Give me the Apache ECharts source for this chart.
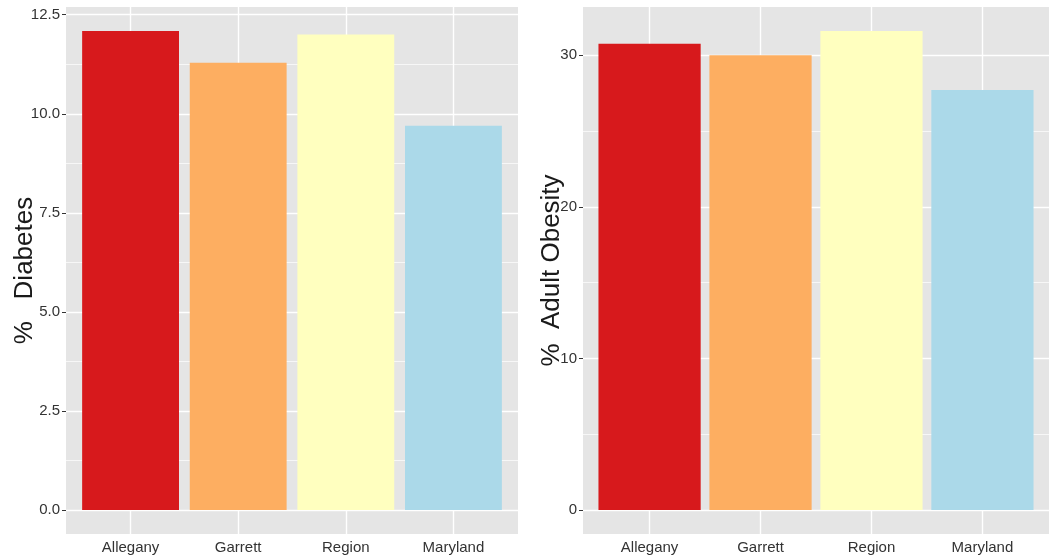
<!DOCTYPE html>
<html>
<head>
<meta charset="utf-8">
<script src="https://cdn.jsdelivr.net/npm/echarts@6/dist/echarts.min.js"></script>
<style>
html,body{margin:0;padding:0;background:#fff;}
#chart{width:1049px;height:559px;}
</style>
</head>
<body>
<div id="chart"></div>
<script>
const categories = ['Allegany', 'Garrett', 'Region', 'Maryland'];
const diabetes = [12.09, 11.29, 12.0, 9.70];
const obesity = [30.76, 30.0, 31.6, 27.7];
const barColors = ['#D7191C', '#FDAE61', '#FFFFBF', '#ABD9E9'];
const diabetesTicks = [0, 2.5, 5, 7.5, 10, 12.5];
const diabetesMinor = [1.25, 3.75, 6.25, 8.75, 11.25];
const obesityTicks = [0, 10, 20, 30];
const obesityMinor = [5, 15, 25];
const xPositions = [1, 2, 3, 4];

const panelBg = '#E5E5E5';
const tickColor = '#333333';
const labelColor = '#333333';

const grids = [
  {left: 66, top: 7, width: 452, height: 527},
  {left: 583, top: 7, width: 477, height: 527}
];

function yRange(vals) {
  const mx = Math.max(...vals);
  return {min: -0.05 * mx, max: mx * 1.05};
}

function gridLineSeries(idx, major, minor) {
  const data = [];
  major.forEach(v => data.push({yAxis: v, lineStyle: {width: 1.4}}));
  minor.forEach(v => data.push({yAxis: v, lineStyle: {width: 0.7}}));
  xPositions.forEach(v => data.push({xAxis: v, lineStyle: {width: 1.4}}));
  return {
    type: 'line', xAxisIndex: idx, yAxisIndex: idx, data: [], z: 1, silent: true,
    markLine: {
      z: 1,
      silent: true, symbol: ['none', 'none'], label: {show: false},
      lineStyle: {color: '#FFFFFF', type: 'solid'},
      emphasis: {disabled: true},
      animation: false,
      data: data
    }
  };
}

function barSeries(idx, vals) {
  const bw = grids[idx].width / 4.2 * 0.9;
  return {
    type: 'bar', xAxisIndex: idx, yAxisIndex: idx, z: 3, barWidth: bw,
    animation: false,
    data: vals.map((v, i) => ({value: [xPositions[i], v], itemStyle: {color: barColors[i]}}))
  };
}

function xAxisDef(idx) {
  return {
    type: 'value', gridIndex: idx, min: 0.4, max: 4.6,
    splitLine: {show: false},
    axisLine: {show: false},
    axisTick: {show: true, length: 4, lineStyle: {color: tickColor, width: 1}, customValues: xPositions},
    axisLabel: {
      customValues: xPositions, margin: 6, fontSize: 15, color: labelColor,
      fontFamily: 'Liberation Sans, Arial, sans-serif',
      formatter: v => categories[Math.round(v) - 1] || ''
    }
  };
}

function yAxisDef(idx, vals, ticks, name, decimals) {
  const r = yRange(vals);
  return {
    type: 'value', gridIndex: idx, min: r.min, max: r.max,
    splitLine: {show: false},
    axisLine: {show: false},
    axisTick: {show: true, length: 4, lineStyle: {color: tickColor, width: 1}, customValues: ticks},
    axisLabel: {
      customValues: ticks, margin: 6, fontSize: 15, color: labelColor,
      fontFamily: 'Liberation Sans, Arial, sans-serif',
      formatter: v => Number(v).toFixed(decimals)
    },
    name: name, nameLocation: 'middle', nameRotate: 90,
    nameMoveOverlap: false,
    nameGap: idx === 0 ? 28 : 18,
    nameTextStyle: {fontSize: 26, color: '#1a1a1a', fontFamily: 'Liberation Sans, Arial, sans-serif'}
  };
}

const chart = echarts.init(document.getElementById('chart'), null, {renderer: 'canvas'});
chart.setOption({
  backgroundColor: '#FFFFFF',
  animation: false,
  grid: grids.map(g => Object.assign({show: true, backgroundColor: panelBg, borderWidth: 0}, g)),
  xAxis: [xAxisDef(0), xAxisDef(1)],
  yAxis: [
    yAxisDef(0, diabetes, diabetesTicks, '%   Diabetes', 1),
    yAxisDef(1, obesity, obesityTicks, '%  Adult Obesity', 0)
  ],
  series: [
    gridLineSeries(0, diabetesTicks, diabetesMinor),
    gridLineSeries(1, obesityTicks, obesityMinor),
    barSeries(0, diabetes),
    barSeries(1, obesity)
  ]
});
</script>
</body>
</html>
